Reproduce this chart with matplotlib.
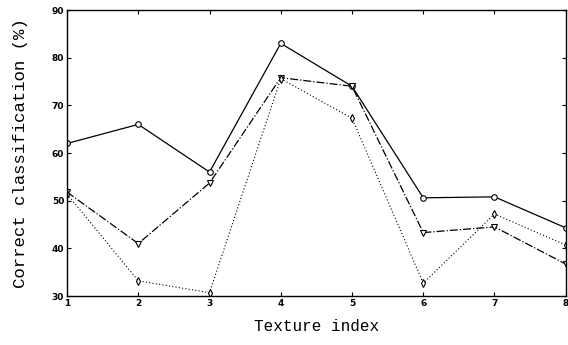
import matplotlib
matplotlib.use("Agg")
import matplotlib.pyplot as plt

# values
texture = [1, 2, 3, 4, 5, 6, 7, 8]
solid_circle = [62, 66, 56, 83, 74, 50.6, 50.8, 44.3]
dashdot_tri = [51.8, 41, 53.7, 75.8, 74, 43.3, 44.5, 36.7]
dotted_diam = [51.4, 33.2, 30.7, 75.6, 67.3, 32.7, 47.2, 40.7]

yticks = [30, 40, 50, 60, 70, 80, 90]

fig = plt.figure(figsize=(5.68, 3.45), dpi=100)
ax = fig.add_axes([0.118, 0.142, 0.878, 0.829])

ax.plot(texture, solid_circle, "-", color="black", lw=0.9,
        marker="o", ms=4, mfc="white", mec="black", mew=0.8)
ax.plot(texture, dashdot_tri, "-.", color="black", lw=0.9,
        marker="v", ms=5, mfc="white", mec="black", mew=0.8)
ax.plot(texture, dotted_diam, linestyle=(0, (1, 2)), color="black", lw=0.8,
        marker="d", ms=4, mfc="white", mec="black", mew=0.8)

ax.set_xlim(1, 8)
ax.set_ylim(30, 90)
ax.set_xticks(texture)
ax.set_yticks(yticks)
ax.tick_params(direction="in", length=3, width=0.8, labelsize=6.5,
               top=True, right=True, pad=2)
for lab in ax.get_xticklabels() + ax.get_yticklabels():
    lab.set_fontweight("bold")
for s in ax.spines.values():
    s.set_linewidth(1.0)

ax.set_xlabel("Texture index", family="Liberation Mono", fontsize=11.5, labelpad=8)
ax.set_ylabel("Correct classification (%)", family="Liberation Mono", fontsize=12.5, labelpad=17)

fig.savefig("out.png", dpi=100)
